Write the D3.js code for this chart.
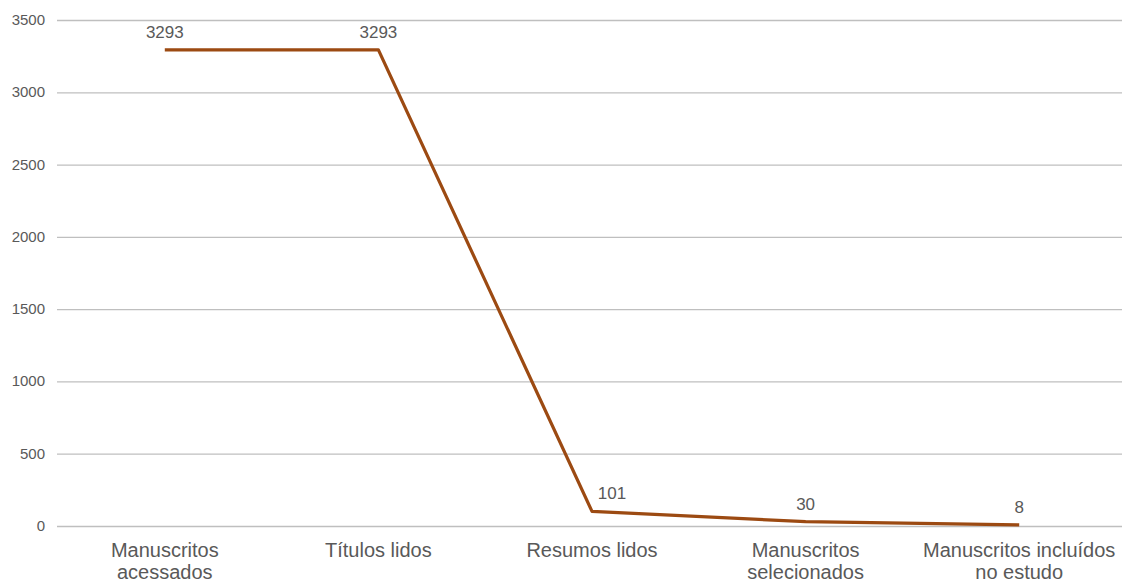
<!DOCTYPE html>
<html lang="pt">
<head>
<meta charset="utf-8">
<title>Manuscritos</title>
<script src="https://cdn.jsdelivr.net/npm/d3@7"></script>
<style>
  html, body { margin: 0; background: #fff; }
  text { font-family: "Liberation Sans", Arial, sans-serif; fill: #595959; }
</style>
</head>
<body>
<script>
// data
var categories = [["Manuscritos", "acessados"], ["Títulos lidos"], ["Resumos lidos"], ["Manuscritos", "selecionados"], ["Manuscritos incluídos", "no estudo"]];
var values = [3293, 3293, 101, 30, 8];
var yTicks = [0, 500, 1000, 1500, 2000, 2500, 3000, 3500];

var w = 1123, h = 582;
var plotLeft = 57, plotRight = 1122, plotTop = 20, plotBottom = 526;

var svg = d3.select("body").append("svg")
  .attr("width", w)
  .attr("height", h);

// categories are spaced a little wider than the gridlines
var x = d3.scaleBand()
  .domain(d3.range(values.length))
  .range([58, 1126]);

var y = d3.scaleLinear()
  .domain([0, 3500])
  .range([plotBottom, plotTop]);

// gridlines
svg.selectAll("line.grid")
  .data(yTicks)
  .enter()
  .append("line")
  .attr("class", "grid")
  .attr("x1", plotLeft)
  .attr("x2", plotRight)
  .attr("y1", function(d) { return y(d) + 0.5; })
  .attr("y2", function(d) { return y(d) + 0.5; })
  .attr("stroke", "#bfbfbf")
  .attr("stroke-width", 1.3);

// y tick labels
svg.selectAll("text.ytick")
  .data(yTicks)
  .enter()
  .append("text")
  .attr("class", "ytick")
  .attr("x", 45)
  .attr("y", function(d) { return y(d) + 5; })
  .attr("text-anchor", "end")
  .attr("font-size", "15px")
  .text(function(d) { return d; });

// category labels
var cat = svg.selectAll("text.cat")
  .data(categories)
  .enter()
  .append("text")
  .attr("class", "cat")
  .attr("text-anchor", "middle")
  .attr("font-size", "20px")
  .attr("y", 557);

cat.selectAll("tspan")
  .data(function(d, i) { return d.map(function(s) { return {s: s, i: i}; }); })
  .enter()
  .append("tspan")
  .attr("x", function(d) { return x(d.i) + x.bandwidth() / 2; })
  .attr("dy", function(d, j) { return j === 0 ? 0 : 22; })
  .text(function(d) { return d.s; });

// line
var line = d3.line()
  .x(function(d, i) { return x(i) + x.bandwidth() / 2; })
  .y(function(d) { return y(d); });

svg.append("path")
  .datum(values)
  .attr("d", line)
  .attr("fill", "none")
  .attr("stroke", "#9c4a12")
  .attr("stroke-width", 3.2)
  .attr("stroke-linejoin", "round");

// data labels
svg.selectAll("text.val")
  .data(values)
  .enter()
  .append("text")
  .attr("class", "val")
  .attr("x", function(d, i) { return x(i) + x.bandwidth() / 2 + (i === 2 ? 20 : 0); })
  .attr("y", function(d) { return y(d) - 12; })
  .attr("text-anchor", "middle")
  .attr("font-size", "17px")
  .text(function(d) { return d; });
</script>
</body>
</html>
